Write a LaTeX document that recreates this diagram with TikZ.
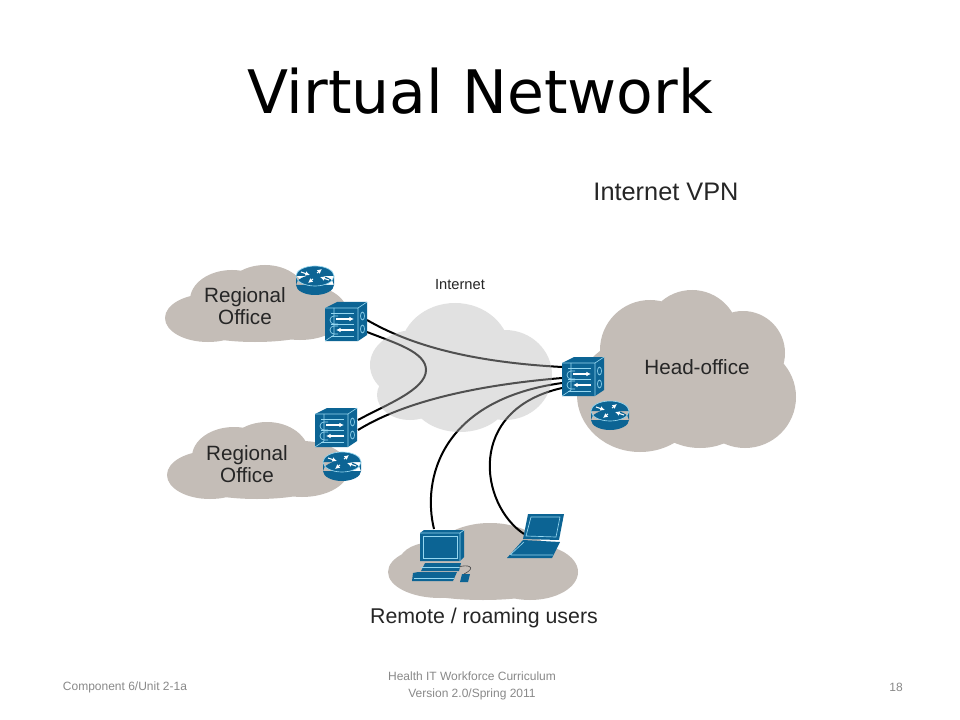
\documentclass[tikz,border=0pt]{standalone}
\usepackage{fontspec}
\setmainfont{Liberation Sans}
\newfontfamily\titlefont{DejaVu Sans}
\usetikzlibrary{arrows.meta}
\definecolor{netblue}{RGB}{12,100,148}
\definecolor{netline}{RGB}{150,215,240}
\definecolor{officegrey}{RGB}{196,189,183}
\definecolor{webgrey}{RGB}{186,186,186}
\definecolor{footgrey}{RGB}{137,137,137}
\tikzset{
	x=0.75pt,y=-0.75pt,
	office/.style = {fill=officegrey},
	web/.style = {fill=webgrey, fill opacity=0.43},
	wire/.style = {-, black, line width=1.5pt},
	my label/.style = {inner sep=0pt, align=center, text=black!85, font=\fontsize{15.5}{16.5}\selectfont},
	my foot/.style = {inner sep=0pt, align=center, text=footgrey, font=\fontsize{9}{12.5}\selectfont},
	shine/.style = {-, draw=netline, line width=0.5pt},
	flow/.style = {-{Latex[length=3.5pt,width=3.5pt]}, draw=white, line width=0.8pt},
	router/.pic = {
		\fill[netblue] (-19,0) rectangle (19,9) (0,0) circle[x radius=19,y radius=10] (0,9) circle[x radius=19,y radius=10];
		\draw[shine] (0,0) circle[x radius=19,y radius=10];
		\draw[flow] (-14,-4) -- (-5,-1);
		\draw[flow] (14,4) -- (5,1);
		\draw[flow] (-2,3) -- (-7,7);
		\draw[flow] (2,-3) -- (7,-7);
	},
	firewall/.pic = {
		\fill[netblue] (-21,-14) -- (-9,-20) -- (21,-20) -- (21,13) -- (12,19) -- (-21,19) -- cycle;
		\draw[shine] (-21,-14) -- (12,-14) -- (12,19) (12,-14) -- (21,-20);
		\draw[shine] (-21,19) -- (-12,13) -- (-12,-14);
		\draw[shine] (-15,-9) -- (8,-9) (-15,14) -- (8,14) (-15,2) -- (8,2);
		\draw[shine, rounded corners=3pt] (-8,-6) -- (-16,-6) -- (-16,2) -- (-8,2);
		\draw[shine, rounded corners=3pt] (-8,4) -- (-16,4) -- (-16,12) -- (-8,12);
		\draw[flow] (-10,-3) -- (8,-3);
		\draw[flow] (8,8) -- (-10,8);
		\draw[shine] (16.5,-6) circle[x radius=2,y radius=4] (16.5,7) circle[x radius=2,y radius=4];
	},
	desktop/.pic = {
		\fill[netblue] (-25,-23) -- (-21,-26) -- (19,-26) -- (19,1) -- (15,5) -- (-25,5) -- cycle;
		\draw[shine] (-25,-23) -- (15,-23) -- (15,5) (15,-23) -- (19,-26);
		\draw[shine, fill=netblue] (-22,-20) rectangle (12,2);
		\fill[netblue] (-20,7) -- (16,7) -- (14,15) -- (-24,15) -- cycle;
		\draw[shine] (-24,11) -- (15,11);
		\fill[netblue] (-32,17) -- (-27,16) -- (12,16) -- (8,25) -- (-33,25) -- cycle;
		\draw[shine] (-31,22) -- (9,22);
		\fill[netblue] (17,18) -- (25,18) -- (23,26) -- (15,26) -- cycle;
		\draw[black!70, line width=0.5pt] (14,11) .. controls (22,8) and (33,11) .. (19,18);
	},
	notebook/.pic = {
		\fill[netblue] (-7,-21) -- (29,-21) -- (24,5) -- (-12,4) -- cycle;
		\draw[shine, fill=netblue] (-4,-18) -- (25,-18) -- (21,2) -- (-9,1) -- cycle;
		\fill[netblue] (-12,5) -- (25,7) -- (17,23) -- (-28,23) -- cycle;
		\draw[shine] (-24,20) -- (18,20) (-11,7) -- (-25,20);
	}
}
\begin{document}
\begin{tikzpicture}
	\useasboundingbox (0,0) rectangle (960,720);
	\fill[white] (0,0) rectangle (960,720);
	\node[inner sep=0pt, text=black, font=\titlefont\fontsize{45}{50}\selectfont] (title) at (480,91) {Virtual Network};
	\node[my label, font=\fontsize{19}{20}\selectfont] (vpn) at (666,192) {Internet VPN};
	% offices
	\fill[office] (208,318) circle[x radius=43,y radius=24] (232,300) circle[x radius=42,y radius=30] (265,297) circle[x radius=42,y radius=32] (300,312) circle[x radius=47,y radius=28] (255,322) circle[x radius=75,y radius=20];
	\fill[office] (210,475) circle[x radius=43,y radius=24] (234,457) circle[x radius=42,y radius=30] (267,454) circle[x radius=42,y radius=32] (302,469) circle[x radius=47,y radius=28] (257,479) circle[x radius=75,y radius=20];
	\fill[office] (650,350) circle[radius=50] (692,337) circle[radius=47] (743,353) circle[radius=42] (745,397) circle[radius=51] (640,395) circle[x radius=63,y radius=57] (700,393) circle[x radius=60,y radius=55];
	\fill[office] (440,572) circle[x radius=52,y radius=26] (490,560) circle[x radius=60,y radius=37] (530,572) circle[x radius=48,y radius=28] (428,565) circle[x radius=30,y radius=22] (483,578) circle[x radius=88,y radius=22];
	% wires go under the internet cloud
	\coordinate (fwa up) at (367,320);
	\coordinate (fwa low) at (367,332);
	\coordinate (fwb up) at (358,420);
	\coordinate (fwb low) at (358,430);
	\coordinate (hq a) at (562,367);
	\coordinate (hq b) at (562,378);
	\coordinate (hq c) at (562,383);
	\coordinate (hq d) at (562,388);
	\coordinate (pc top) at (434,529);
	\coordinate (lap top) at (524,534);
	\draw[wire] (fwa up) .. controls (410,345) and (470,362) .. (hq a);
	\draw[wire] (fwa low) .. controls (395,343) and (426,352) .. (426,370) .. controls (426,390) and (385,405) .. (fwb up);
	\draw[wire] (fwb low) .. controls (410,398) and (490,384) .. (hq b);
	\draw[wire] (pc top) .. controls (422,480) and (440,400) .. (hq c);
	\draw[wire] (lap top) .. controls (480,505) and (465,410) .. (hq d);
	\fill[web] (455,352) circle[x radius=55,y radius=49] (415,365) circle[x radius=45,y radius=35] (410,395) circle[x radius=33,y radius=25] (460,395) circle[x radius=50,y radius=37] (505,375) circle[x radius=47,y radius=45];
	% devices
	\pic (fwa) at (346,322) {firewall};
	\pic (fwb) at (336,428) {firewall};
	\pic (fwh) at (583,377) {firewall};
	\pic (ra) at (315,276) {router};
	\pic (rb) at (342,462) {router};
	\pic (rh) at (610,411) {router};
	\pic (pc) at (445,556) {desktop};
	\pic (lap) at (535,535) {notebook};
	% labels
	\node[my label] (officea) at (245,306) {Regional\\Office};
	\node[my label] (officeb) at (247,464) {Regional\\Office};
	\node[my label] (head) at (697,367) {Head-office};
	\node[my label, font=\fontsize{11}{12}\selectfont] (inet) at (460,285) {Internet};
	\node[my label, font=\fontsize{16}{17}\selectfont] (users) at (484,618) {Remote / roaming users};
	\node[my foot] (unit) at (125,687) {Component 6/Unit 2-1a};
	\node[my foot] (course) at (472,686) {Health IT Workforce Curriculum\\Version 2.0/Spring 2011};
	\node[my foot] (page) at (896,687) {18};
\end{tikzpicture}
\end{document}
